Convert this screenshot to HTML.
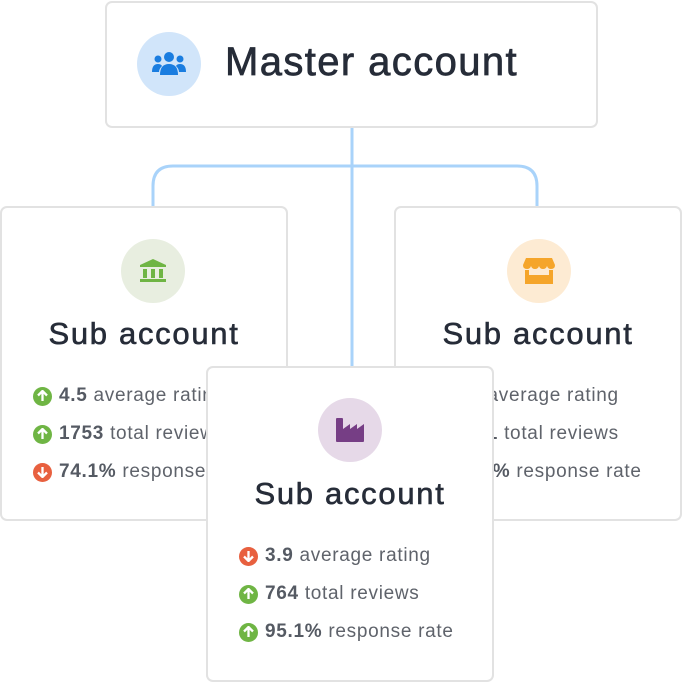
<!DOCTYPE html>
<html><head><meta charset="utf-8"><style>
*{margin:0;padding:0;box-sizing:border-box}
body{width:682px;height:682px;background:#fff;position:relative;overflow:hidden;font-family:"Liberation Sans",sans-serif;color:#262c38}
.box{position:absolute;background:#fff;border:2px solid #e2e2e2;border-radius:7px}
.circ{position:absolute;border-radius:50%;display:flex;align-items:center;justify-content:center}
.title{position:absolute;left:0;right:0;text-align:center;font-size:31px;letter-spacing:1.7px;-webkit-text-stroke:0.6px #262c38}
.row{position:absolute;font-size:19px;letter-spacing:0.7px;color:#5f636b;white-space:nowrap;display:flex;align-items:center}
.row b{color:#555a63;margin-right:6px}
.ic{width:19px;height:19px;border-radius:50%;margin-right:7px;display:inline-flex;align-items:center;justify-content:center;flex:none}
.up{background:#6fb544}.dn{background:#e8603f}
</style></head><body>
<svg style="position:absolute;left:0;top:0" width="682" height="682">
<path d="M352 127 V367 M153 207 V186 Q153 166 173 166 H517 Q537 166 537 186 V207" fill="none" stroke="#a9d3fa" stroke-width="3"/>
</svg>

<div class="box" style="left:105px;top:1px;width:493px;height:127px">
 <div class="circ" style="left:30px;top:29px;width:64px;height:64px;background:#d1e5fa">
  <svg width="36" height="26" viewBox="0 0 36 26"><g fill="#1a7de0"><circle cx="18" cy="6" r="5"/><circle cx="7" cy="8" r="3.5"/><circle cx="29" cy="8" r="3.5"/><path d="M9 24 Q9 13 18 13 Q27 13 27 24Z"/><path d="M1 21 Q1 13 7 13 Q10 13 11 15 Q8 18 8 21Z"/><path d="M35 21 Q35 13 29 13 Q26 13 25 15 Q28 18 28 21Z"/></g></svg>
 </div>
 <div style="position:absolute;left:118px;top:37px;font-size:40px;letter-spacing:1.4px;-webkit-text-stroke:0.7px #262c38">Master account</div>
</div>

<div class="box" style="left:0;top:206px;width:288px;height:315px">
 <div class="circ" style="left:119px;top:31px;width:64px;height:64px;background:#e8eee0">
  <svg width="28" height="26" viewBox="0 0 28 26"><g fill="#6fb544"><path d="M14 1 L27 7 V9 H1 V7Z"/><rect x="4" y="11" width="4" height="9"/><rect x="12" y="11" width="4" height="9"/><rect x="20" y="11" width="4" height="9"/><rect x="1" y="21" width="26" height="3"/></g></svg>
 </div>
 <div class="title" style="top:108px">Sub account</div>
 <div class="row" style="left:31px;top:177px"><span class="ic up"><svg width="11" height="12"><path d="M5.5 1 V11 M1 5.5 L5.5 1 L10 5.5" stroke="#fff" stroke-width="2.3" fill="none"/></svg></span><b>4.5</b>average rating</div>
 <div class="row" style="left:31px;top:215px"><span class="ic up"><svg width="11" height="12"><path d="M5.5 1 V11 M1 5.5 L5.5 1 L10 5.5" stroke="#fff" stroke-width="2.3" fill="none"/></svg></span><b>1753</b>total reviews</div>
 <div class="row" style="left:31px;top:253px"><span class="ic dn"><svg width="11" height="12"><path d="M5.5 1 V11 M1 6.5 L5.5 11 L10 6.5" stroke="#fff" stroke-width="2.3" fill="none"/></svg></span><b>74.1%</b>response rate</div>
</div>

<div class="box" style="left:394px;top:206px;width:288px;height:315px">
 <div class="circ" style="left:111px;top:31px;width:64px;height:64px;background:#fdebd3">
  <svg width="34" height="28" viewBox="0 0 34 28"><g fill="#f5a52a"><path d="M4 1 H30 L33 8 Q33 12 29 12 Q26 12 25 9 Q24 12 21 12 Q18 12 17 9 Q16 12 13 12 Q10 12 9 9 Q8 12 5 12 Q1 12 1 8Z"/><path d="M3 13 H7 V18 H27 V13 H31 V27 H3Z"/></g></svg>
 </div>
 <div class="title" style="top:108px">Sub account</div>
 <div class="row" style="left:31px;top:177px"><span class="ic up"></span><b>4.2</b>average rating</div>
 <div class="row" style="left:31px;top:215px"><span class="ic up"></span><b>1261</b>total reviews</div>
 <div class="row" style="left:31px;top:253px"><span class="ic up"></span><b>88.4%</b>response rate</div>
</div>

<div class="box" style="left:206px;top:366px;width:288px;height:316px">
 <div class="circ" style="left:110px;top:30px;width:64px;height:64px;background:#e6d9e8">
  <svg width="30" height="26" viewBox="0 0 30 26"><path fill="#763e85" d="M1 2 Q1 1 2 1 H7 Q8 1 8 2 V12 L15 7 V12 L22 7 V12 L29 7 V24 Q29 25 28 25 H2 Q1 25 1 24Z"/></svg>
 </div>
 <div class="title" style="top:108px">Sub account</div>
 <div class="row" style="left:31px;top:177px"><span class="ic dn"><svg width="11" height="12"><path d="M5.5 1 V11 M1 6.5 L5.5 11 L10 6.5" stroke="#fff" stroke-width="2.3" fill="none"/></svg></span><b>3.9</b>average rating</div>
 <div class="row" style="left:31px;top:215px"><span class="ic up"><svg width="11" height="12"><path d="M5.5 1 V11 M1 5.5 L5.5 1 L10 5.5" stroke="#fff" stroke-width="2.3" fill="none"/></svg></span><b>764</b>total reviews</div>
 <div class="row" style="left:31px;top:253px"><span class="ic up"><svg width="11" height="12"><path d="M5.5 1 V11 M1 5.5 L5.5 1 L10 5.5" stroke="#fff" stroke-width="2.3" fill="none"/></svg></span><b>95.1%</b>response rate</div>
</div>
</body></html>
